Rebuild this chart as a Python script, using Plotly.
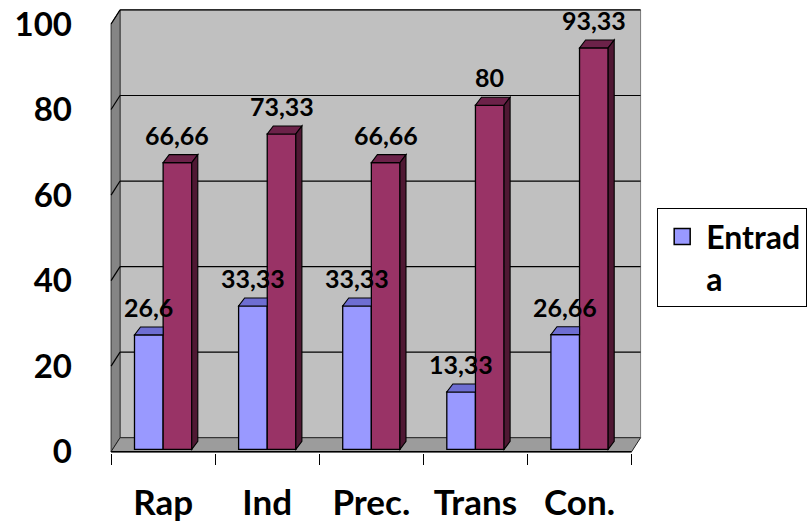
import plotly.graph_objects as go

# ---------------- data ----------------
categories = ["Rap", "Ind", "Prec.", "Trans", "Con."]
entrada = [26.6, 33.33, 33.33, 13.33, 26.66]
salida = [66.66, 73.33, 66.66, 80, 93.33]
y_ticks = [0, 20, 40, 60, 80, 100]
legend_name = "Entrad<br>a"

# ---------------- style ----------------
BLUE, BLUE_TOP = "#9999FF", "#6E6ED2"
MAROON, MAROON_TOP, MAROON_SIDE = "#993366", "#6C2249", "#4F1833"
WALL, SIDE_WALL, FLOOR = "#C0C0C0", "#858585", "#9C9C9C"
FONT = "Lato"

BAR_W = 0.275          # width of one bar in category units
DX, DY = 0.058, 1.85   # bar depth offsets (x units, y units)
WX, WY = 0.0864, 3.28  # wall depth offsets (x units, y2 units)


def fmt(v):
    return f"{v:g}".replace(".", ",")


fig = go.Figure()
fig.add_trace(go.Bar(x=categories, y=entrada, name="Entrada", showlegend=False,
                     marker=dict(color=BLUE, line=dict(color="black", width=1.3))))
fig.add_trace(go.Bar(x=categories, y=salida, name="Salida", showlegend=False,
                     marker=dict(color=MAROON, line=dict(color="black", width=1.3))))
# legend proxy for the first series
fig.add_trace(go.Scatter(x=[None], y=[None], mode="markers", name=legend_name,
                         marker=dict(symbol="square", size=16, color=BLUE,
                                     line=dict(color="black", width=1.5))))
# empty trace to anchor the front-plane label axis
fig.add_trace(go.Scatter(x=[None], y=[None], yaxis="y2", showlegend=False,
                         hoverinfo="skip"))

shapes = []


def poly(pts, fill, line="black", width=1, layer="below", yref="y2"):
    path = "M " + " L ".join(f"{x},{y}" for x, y in pts) + " Z"
    return dict(type="path", path=path, xref="x", yref=yref, fillcolor=fill,
                line=dict(color=line, width=width), layer=layer)


def seg(x0, y0, x1, y1, color="black", width=1.2, yref="y2", layer="below"):
    return dict(type="line", x0=x0, y0=y0, x1=x1, y1=y1, xref="x", yref=yref,
                line=dict(color=color, width=width), layer=layer)


L, R = -0.5, len(categories) - 0.5
top = y_ticks[-1]
# back wall
shapes.append(poly([(L + WX, WY), (R + WX, WY), (R + WX, top + WY), (L + WX, top + WY)],
                   WALL, line="#7a7a7a", width=1))
# left wall
shapes.append(poly([(L, 0), (L + WX, WY), (L + WX, top + WY), (L, top)],
                   SIDE_WALL, line="#333333", width=1))
# floor
shapes.append(poly([(L, 0), (R, 0), (R + WX, WY), (L + WX, WY)],
                   FLOOR, line="#222222", width=1))
# gridlines on back wall and left wall
for v in y_ticks[1:]:
    shapes.append(seg(L + WX, v + WY, R + WX, v + WY))
    shapes.append(seg(L, v, L + WX, v + WY))
# front edge of floor (x axis line)
shapes.append(seg(L, 0, R, 0, width=1.5))

# 3D tops / sides of bars
for i, (b, m) in enumerate(zip(entrada, salida)):
    bx0, bx1 = i - BAR_W, i
    mx0, mx1 = i, i + BAR_W
    shapes.append(poly([(bx0, b), (bx1, b), (bx1, b + DY), (bx0 + DX, b + DY)],
                       BLUE_TOP, width=1.1, layer="above", yref="y"))
    shapes.append(poly([(mx0, m), (mx1, m), (mx1 + DX, m + DY), (mx0 + DX, m + DY)],
                       MAROON_TOP, width=1.1, layer="above", yref="y"))
    shapes.append(poly([(mx1, 0), (mx1 + DX, DY), (mx1 + DX, m + DY), (mx1, m)],
                       MAROON_SIDE, width=1.1, layer="above", yref="y"))

annotations = []
for i, (b, m) in enumerate(zip(entrada, salida)):
    for xv, v in ((i - BAR_W / 2, b), (i + BAR_W / 2, m)):
        annotations.append(dict(x=xv, y=v, xref="x", yref="y", text=fmt(v),
                                showarrow=False, yanchor="middle", yshift=28,
                                font=dict(family=FONT, size=25, color="black",
                                          weight="bold")))

# plot-area geometry (pixels)
W, H = 812, 523
left_px, right_px = 108.6, 642.1
top_px, bottom_px = 9.06, 453.0

fig.update_layout(
    width=W, height=H,
    margin=dict(l=left_px, r=W - right_px, t=top_px, b=H - bottom_px, pad=0,
                autoexpand=False),
    paper_bgcolor="white", plot_bgcolor="white",
    barmode="group", bargap=0.45, bargroupgap=0,
    font=dict(family=FONT, color="black", weight="bold"),
    shapes=shapes, annotations=annotations,
    showlegend=True,
    legend=dict(x=(657 - left_px) / (right_px - left_px),
                y=(bottom_px - 208) / (bottom_px - top_px),
                xanchor="left", yanchor="top", valign="top",
                bgcolor="white", bordercolor="black", borderwidth=1.3,
                font=dict(family=FONT, size=32, color="black", weight="bold"),
                itemsizing="trace", itemwidth=38, entrywidth=125),
    xaxis=dict(type="category", range=[-0.52, 4.6], showgrid=False, zeroline=False,
               showline=False, ticks="outside", tickson="boundaries", ticklen=11,
               tickcolor="black", tickwidth=1.2, ticklabelstandoff=26,
               automargin=False,
               tickfont=dict(family=FONT, size=35, color="black", weight="bold")),
    yaxis=dict(range=[-0.86, 102.38], showgrid=False, zeroline=False,
               showticklabels=False, showline=False, ticks="", automargin=False),
    yaxis2=dict(overlaying="y", side="left", range=[-0.3, 103.5],
                tickvals=y_ticks, showgrid=False, zeroline=False, showline=False,
                ticks="", ticklabelstandoff=36, automargin=False,
                ticklabeloverflow="allow",
                tickfont=dict(family=FONT, size=33, color="black", weight="bold")),
)

# remove the browser's default 8px body margin so the figure fills the window
fig.write_html("out.html",
               config={"displayModeBar": False},
               post_script="document.body.style.margin='0';"
                           "document.body.style.overflow='hidden';")
